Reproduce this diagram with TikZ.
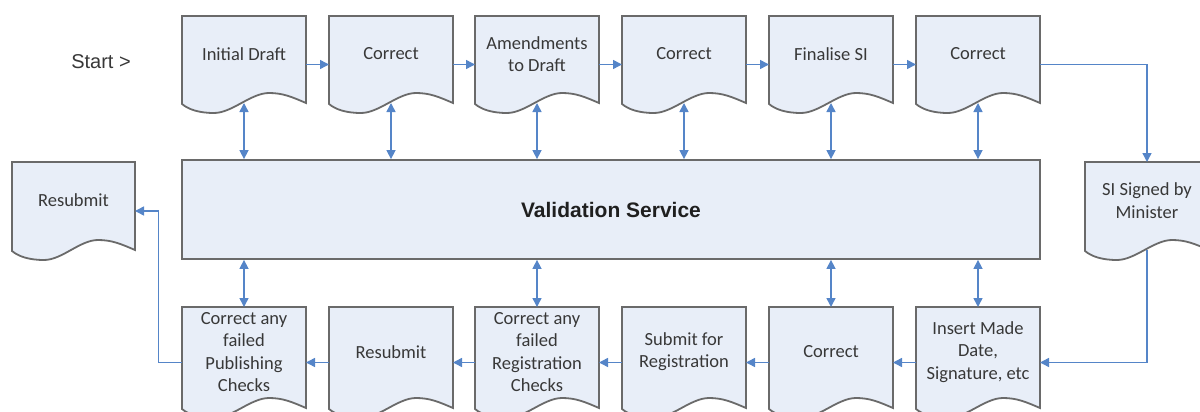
\documentclass[tikz,border=0pt]{standalone}
\usepackage{fontspec}
\setmainfont{Carlito}
\newfontfamily\arialfont{Liberation Sans}
\usetikzlibrary{arrows.meta,calc,backgrounds}
\definecolor{docfill}{HTML}{E8EEF8}
\definecolor{docline}{HTML}{6A6A6A}
\definecolor{arrblue}{HTML}{5585C8}
\definecolor{txt}{HTML}{383838}
\newcommand\docpath[1]{%
  \path[shapeline] (#1.north west) -- (#1.north east) -- ([yshift=10pt]#1.south east)
    .. controls +(-14pt,6pt) and +(14pt,0pt) .. ([shift={(-37pt,20pt)}]#1.south east)
    .. controls +(-18pt,0pt) and +(18pt,0pt) .. ([xshift=32pt]#1.south west)
    .. controls +(-16pt,0pt) and +(6pt,-5pt) .. ([yshift=9pt]#1.south west) -- cycle;}
\begin{document}
\begin{tikzpicture}[x=1pt,y=-1pt,
  doc/.style={minimum width=124pt, minimum height=97pt, inner sep=0pt, outer sep=0pt},
  tall/.style={minimum height=111pt},
  doctext/.style={font=\fontsize{18.5}{22.3}\selectfont, text=txt, align=center, inner sep=0pt, yshift=10.5pt},
  tip/.style={Triangle[length=9pt,width=9pt]},
  link/.style={draw=arrblue, line width=1.5pt, -{Triangle[length=9pt,width=9pt]}},
  dlink/.style={draw=arrblue, line width=1.5pt, {Triangle[length=9pt,width=9pt]}-{Triangle[length=9pt,width=9pt]}},
  shapeline/.style={draw=docline, fill=docfill, line width=1.8pt, line join=miter},
  bigbox/.style={draw=docline, fill=docfill, line width=1.8pt, minimum width=858pt, minimum height=99pt, inner sep=0pt,
    font=\arialfont\bfseries\fontsize{21}{25}\selectfont, text={black!88}},
  starttext/.style={font=\arialfont\fontsize{20}{24}\selectfont, text=txt, inner sep=0pt}
]
\useasboundingbox (0,0) rectangle (1200,412);
\clip (0,0) rectangle (1200,412);

\node[starttext] (start) at (101,62) {Start >};

% top row
\node[doc, label={[doctext]center:Initial Draft}] (d1) at (244,64.5) {};
\node[doc, label={[doctext]center:Correct}] (d2) at (391,64.5) {};
\node[doc, label={[doctext]center:{Amendments\\to Draft}}] (d3) at (537,64.5) {};
\node[doc, label={[doctext]center:Correct}] (d4) at (684,64.5) {};
\node[doc, label={[doctext]center:Finalise SI}] (d5) at (831,64.5) {};
\node[doc, label={[doctext]center:Correct}] (d6) at (978,64.5) {};

% side docs
\node[doc, minimum width=123pt, minimum height=98pt, label={[doctext]center:Resubmit}] (res) at (73.5,211) {};
\node[doc, minimum height=98pt, label={[doctext]center:{SI Signed by\\Minister}}] (si) at (1147,211) {};

% bottom row
\node[doc, tall, label={[doctext]center:{Correct any\\failed\\Publishing\\Checks}}] (b1) at (244,362.5) {};
\node[doc, tall, label={[doctext]center:Resubmit}] (b2) at (391,362.5) {};
\node[doc, tall, label={[doctext]center:{Correct any\\failed\\Registration\\Checks}}] (b3) at (537,362.5) {};
\node[doc, tall, label={[doctext]center:{Submit for\\Registration}}] (b4) at (684,362.5) {};
\node[doc, tall, label={[doctext]center:Correct}] (b5) at (831,362.5) {};
\node[doc, tall, label={[doctext]center:{Insert Made\\Date,\\Signature, etc}}] (b6) at (978,362.5) {};

% document outlines behind their texts
\begin{scope}[on background layer]
\foreach \n in {d1,d2,d3,d4,d5,d6,res,si,b1,b2,b3,b4,b5,b6} {\docpath{\n}}
\end{scope}

\node[bigbox] (V) at (611,209.5) {Validation Service};

% top flow
\draw[link] (d1.east) -- (d2.west);
\draw[link] (d2.east) -- (d3.west);
\draw[link] (d3.east) -- (d4.west);
\draw[link] (d4.east) -- (d5.west);
\draw[link] (d5.east) -- (d6.west);
\draw[link] (d6.east) -| (si.north);
\draw[link] ([yshift=10pt]si.south) |- (b6.east);

% bottom flow
\draw[link] (b6.west) -- (b5.east);
\draw[link] (b5.west) -- (b4.east);
\draw[link] (b4.west) -- (b3.east);
\draw[link] (b3.west) -- (b2.east);
\draw[link] (b2.west) -- (b1.east);
\draw[link] (b1.west) -| ($(b1.west)!0.5!(res.east)$) |- (res.east);

% validation links
\foreach \n in {d1,d2,d3,d4,d5,d6} {\draw[dlink] ([yshift=10pt]\n.south) -- (\n.south |- V.north);}
\foreach \n in {b1,b3,b5,b6} {\draw[dlink] (V.south -| \n.north) -- (\n.north);}
\end{tikzpicture}
\end{document}
